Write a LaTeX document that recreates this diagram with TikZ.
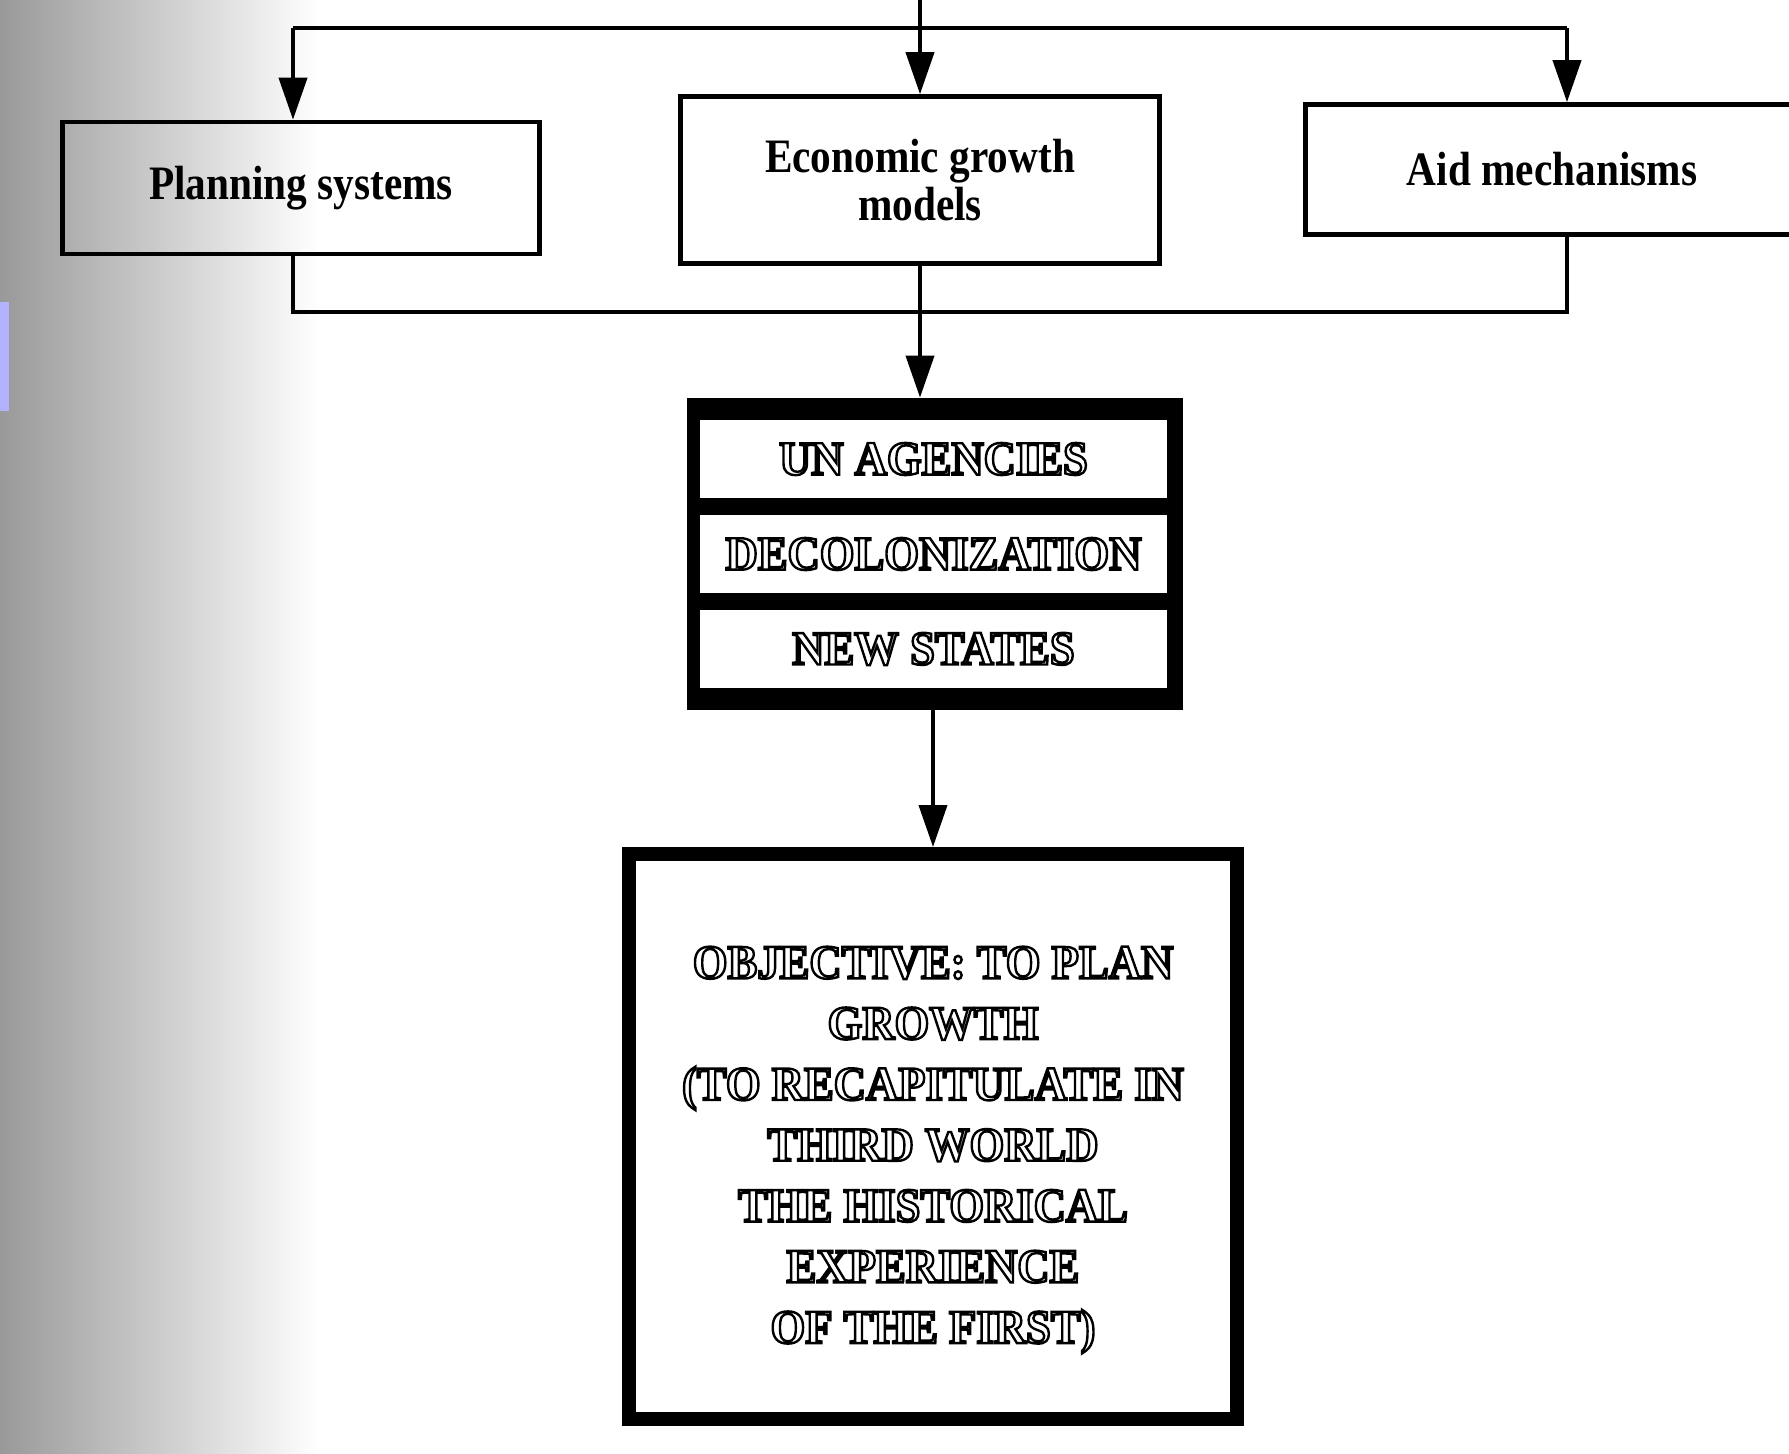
\documentclass[tikz,border=0pt]{standalone}
\usepackage{fontspec}
\setmainfont{Liberation Serif}
\newfontfamily\boxfont{Liberation Serif}[FakeStretch=0.86]
\newfontfamily\engfont{Liberation Serif}[FakeStretch=0.93]
\usetikzlibrary{arrows.meta,calc}
\newcommand\eng[1]{{\color{white}\special{pdf:literal direct 2 Tr 1.2 w 0 G}#1\special{pdf:literal direct 0 Tr}}}
\begin{document}
\begin{tikzpicture}[x=0.5pt,y=-0.5pt,
  topbox/.style={draw, line width=2.3pt, inner sep=0pt, align=center,
    font=\boxfont\bfseries\fontsize{24}{24}\selectfont},
  conn/.style={line width=2pt},
  arr/.style={conn, -{Triangle[length=21pt,width=14pt]}},
  row/.style={fill=white, minimum width=233.5pt, minimum height=39pt, inner sep=0pt,
    font=\engfont\bfseries\fontsize{24}{30}\selectfont},
  objbox/.style={draw, line width=7pt, minimum width=304pt, minimum height=282.5pt,
    inner sep=0pt},
  objtext/.style={align=center, inner sep=0pt, font=\engfont\bfseries\fontsize{24}{30.4}\selectfont}]
\useasboundingbox (0,0) rectangle (1789,1454);
\clip (0,0) rectangle (1789,1454);
% scanned page shadow at the left edge
\shade[left color=black!40, right color=white] (0,0) rectangle (320,1454);
\fill[blue!30!white] (0,302) rectangle (9,411);

% top boxes
\node[topbox, minimum width=238.5pt, minimum height=66pt] (pl) at (301,188) {Planning systems};
\node[topbox, minimum width=239.5pt, minimum height=83.5pt] (ec) at (920,180) {Economic growth\\models};
\node[topbox, minimum width=246.5pt, minimum height=65pt] (ai) at (1552,169.5) {Aid mechanisms};

% stacked box
\node[fill=black, minimum width=248pt, minimum height=156pt, inner sep=0pt] (st) at (935,554) {};
\node[row] (un) at (933.5,459) {\eng{UN AGENCIES}};
\node[row] (de) at (933.5,554) {\eng{DECOLONIZATION}};
\node[row] (ns) at (933.5,649) {\eng{NEW STATES}};

% objective box
\node[objbox] (ob) at (933,1136.5) {};
\node[objtext] (obt) at (933,1150) {\eng{OBJECTIVE: TO PLAN}\\\eng{GROWTH}\\\eng{(TO RECAPITULATE IN}\\\eng{THIRD WORLD}\\\eng{THE HISTORICAL}\\\eng{EXPERIENCE}\\\eng{OF THE FIRST)}};

% connectors
\coordinate (top) at (920,0);
\coordinate (hl) at (293,28);
\coordinate (hr) at (1567,28);
\coordinate (bl) at (293,312);
\coordinate (br) at (1567,312);
\draw[arr] (top) -- (ec.north);
\draw[conn] (hl) -- (hr);
\draw[arr] (hl) -- (hl |- pl.north);
\draw[arr] (hr) -- (hr |- ai.north);
\draw[conn] (hl |- pl.south) -- (bl) -- (br) -- (hr |- ai.south);
\draw[arr] (ec.south) -- (ec.south |- st.north);
\draw[arr] (ob.north |- st.south) -- (ob.north);
\end{tikzpicture}
\end{document}
